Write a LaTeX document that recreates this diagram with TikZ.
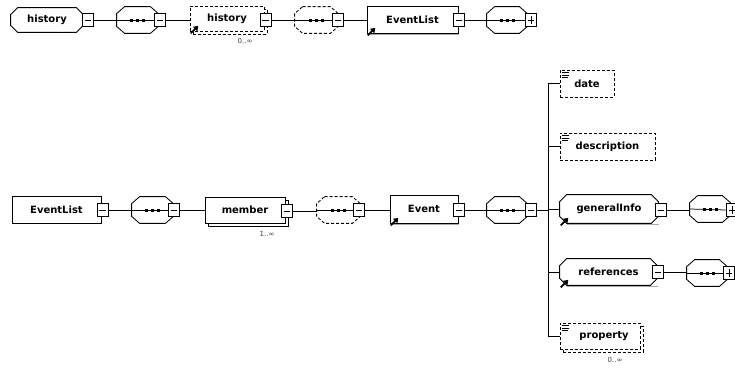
\documentclass[tikz,border=0pt]{standalone}
\usepackage{fontspec}
\setmainfont{DejaVu Sans}
\usetikzlibrary{calc,arrows.meta,shadows,backgrounds}

% octagon outline around an invisible node: #1 options, #2 node, #3 x chamfer, #4 y chamfer
\newcommand\octo[4][]{%
  \draw[#1] ([xshift=#3]#2.north west) -- ([xshift=-#3]#2.north east)
    -- ([yshift=-#4]#2.north east) -- ([yshift=#4]#2.south east)
    -- ([xshift=-#3]#2.south east) -- ([xshift=#3]#2.south west)
    -- ([yshift=#4]#2.south west) -- ([yshift=-#4]#2.north west) -- cycle;}
% three squares of a sequence compositor
\newcommand\seqdots[1]{%
  \foreach \d in {-6pt,0pt,6pt}{\fill ([xshift=\d]#1.center) +(-1.5,-1.5) rectangle +(1.5,1.5);}}
% reference mark at the lower left corner
\newcommand\refmark[1]{\draw[refarrow] ([shift={(1.2pt,-2pt)}]#1.south west) -- ++(7.5,-7.5);}
% simple content icon
\newcommand\simpleicon[1]{%
  \draw[line width=0.6pt] ([shift={(2pt,-3pt)}]#1.north west) -- ++(7.5,0)
    ([shift={(2pt,-5.5pt)}]#1.north west) -- ++(7.5,0)
    ([shift={(2pt,-8pt)}]#1.north west) -- ++(6,0);}
% soft shadow line under an element
\newcommand\shadeline[2]{\draw[black!35,line width=1pt] ([shift={(#2,-1.3pt)}]#1.south west) -- ([shift={(0.6pt,-1.3pt)}]#1.south east);}

\tikzset{
  lbl/.style={font=\bfseries\fontsize{10}{12}\selectfont, inner sep=0pt, anchor=center},
  ghost/.style={lbl, rectangle},
  plainbox/.style={lbl, rectangle, draw, fill=white},
  optbox/.style={plainbox, dash pattern=on 3pt off 2pt},
  stacked/.style={copy shadow={shadow xshift=3pt, shadow yshift=-3pt}},
  toggle/.style={draw, fill=white, rectangle, minimum width=11pt, minimum height=13pt, inner sep=0pt},
  minusbox/.style={toggle, path picture={\draw ([xshift=-3.3pt]path picture bounding box.center) -- ([xshift=3.3pt]path picture bounding box.center);}},
  plusbox/.style={toggle, path picture={\draw ([xshift=-3.3pt]path picture bounding box.center) -- ([xshift=3.3pt]path picture bounding box.center) ([yshift=-3.8pt]path picture bounding box.center) -- ([yshift=3.8pt]path picture bounding box.center);}},
  occurs/.style={font=\fontsize{7}{8}\selectfont, text=black!75, inner sep=0pt},
  refarrow/.style={line width=1.8pt, -{Triangle[length=4.5pt,width=6pt]}},
  optline/.style={dash pattern=on 3pt off 2pt},
  outline/.style={draw=black, line width=0.85pt, fill=white},
  seqnode/.style={ghost, minimum height=26pt},
}

\begin{document}
\begin{tikzpicture}[x=1pt,y=-1pt,line width=0.75pt]
\useasboundingbox (0,0) rectangle (735,368);

% ---- history ----
\node[ghost, minimum width=72pt, minimum height=24pt] (h1) at (47,20) {history};
\node[minusbox] (h1m) at (88,20) {};
\node[seqnode, minimum width=41pt] (s1) at (137.5,20) {};
\node[minusbox] (s1m) at (160,20) {};
\node[optbox, stacked, minimum width=74pt, minimum height=25pt] (h2) at (227,18.5) {history};
\node[minusbox] (h2m) at (265.5,20) {};
\node[occurs] (h2o) at (245,41) {0..∞};
\node[seqnode, minimum width=43pt] (s2) at (316.5,20) {};
\node[minusbox] (s2m) at (338,20) {};
\node[plainbox, minimum width=91pt, minimum height=27pt] (el1) at (412.5,19.5) {EventList};
\node[minusbox] (el1m) at (459,20) {};
\node[seqnode, minimum width=40pt] (s3) at (507,20) {};
\node[plusbox] (s3p) at (531,20) {};

% ---- EventList ----
\node[plainbox, minimum width=89pt, minimum height=27pt] (el2) at (56.5,209.5) {EventList};
\node[minusbox] (el2m) at (102.5,210) {};
\node[seqnode, minimum width=41pt] (s4) at (152.5,210) {};
\node[minusbox] (s4m) at (174,210) {};
\node[plainbox, stacked, minimum width=80pt, minimum height=26pt] (mem) at (245,210) {member};
\node[minusbox] (memm) at (287,211) {};
\node[occurs] (memo) at (267,234) {1..∞};
\node[seqnode, minimum width=43pt] (s5) at (338.5,210) {};
\node[minusbox] (s5m) at (359,210) {};
\node[plainbox, minimum width=68pt, minimum height=28pt] (ev) at (424,209) {Event};
\node[minusbox] (evm) at (459,210) {};
\node[seqnode, minimum width=40pt] (s6) at (507,210) {};
\node[minusbox] (s6m) at (531,210) {};

% ---- Event children ----
\node[optbox, minimum width=54pt, minimum height=27pt] (date) at (587,83.5) {date};
\node[optbox, minimum width=95pt, minimum height=27pt] (desc) at (607.5,146.5) {description};
\node[ghost, minimum width=98pt, minimum height=28pt] (gi) at (609,209) {generalInfo};
\node[minusbox] (gim) at (661,210) {};
\node[seqnode, minimum width=40pt] (s7) at (710,209) {};
\node[plusbox] (s7p) at (732,210) {};
\node[ghost, minimum width=97pt, minimum height=26pt] (refs) at (608.5,272) {references};
\node[minusbox] (refsm) at (658,272) {};
\node[seqnode, minimum width=40pt] (s8) at (707,273) {};
\node[plusbox] (s8p) at (729,273) {};
\node[optbox, stacked, minimum width=80pt, minimum height=26pt] (prop) at (600,336) {\hspace*{8pt}property};
\node[occurs] (propo) at (615,360) {0..∞};

% page ground and outlines of chamfered shapes
\begin{scope}[on background layer]
  \fill[white] (0,0) rectangle (735,368);
  \octo[outline]{h1}{7pt}{7pt}
  \octo[outline]{gi}{7pt}{7pt}
  \octo[outline]{refs}{7pt}{7pt}
  \foreach \s in {s1,s3,s4,s6,s7,s8}{\octo[outline]{\s}{8pt}{7pt}}
  \foreach \s in {s2,s5}{\octo[outline,optline]{\s}{8pt}{7pt}}
\end{scope}

% shadows of referenced elements
\shadeline{el1}{1.5pt}
\shadeline{ev}{1.5pt}
\shadeline{gi}{7pt}
\shadeline{refs}{7pt}

% connectors
\draw (h1m.east) -- (h1m.east -| s1.west);
\draw (s1m.east) -- (s1m.east -| h2.west);
\draw (h2m.east) -- (h2m.east -| s2.west);
\draw (s2m.east) -- (s2m.east -| el1.west);
\draw (el1m.east) -- (el1m.east -| s3.west);
\draw (el2m.east) -- (el2m.east -| s4.west);
\draw (s4m.east) -- (s4m.east -| mem.west);
\draw (memm.east) -- (memm.east -| s5.west);
\draw (s5m.east) -- (s5m.east -| ev.west);
\draw (evm.east) -- (evm.east -| s6.west);
\draw (gim.east) -- (gim.east -| s7.west);
\draw (refsm.east) -- (refsm.east -| s8.west);

% lines through the compositors
\foreach \s/\t in {s1/s1m,s2/s2m,s3/s3p,s4/s4m,s5/s5m,s6/s6m,s7/s7p,s8/s8p}{
  \draw (\s.west) -- (\t.west);
  \seqdots{\s}
}

% branching to the children of Event
\coordinate (bus) at ($(s6m.east)+(11,0)$);
\draw (s6m.east) -- (bus);
\foreach \c in {date,desc,gi,refs,prop}{\draw (bus) |- (\c.west);}

% marks
\refmark{h2}
\refmark{el1}
\refmark{ev}
\refmark{gi}
\refmark{refs}
\simpleicon{date}
\simpleicon{desc}
\simpleicon{prop}
\end{tikzpicture}
\end{document}
